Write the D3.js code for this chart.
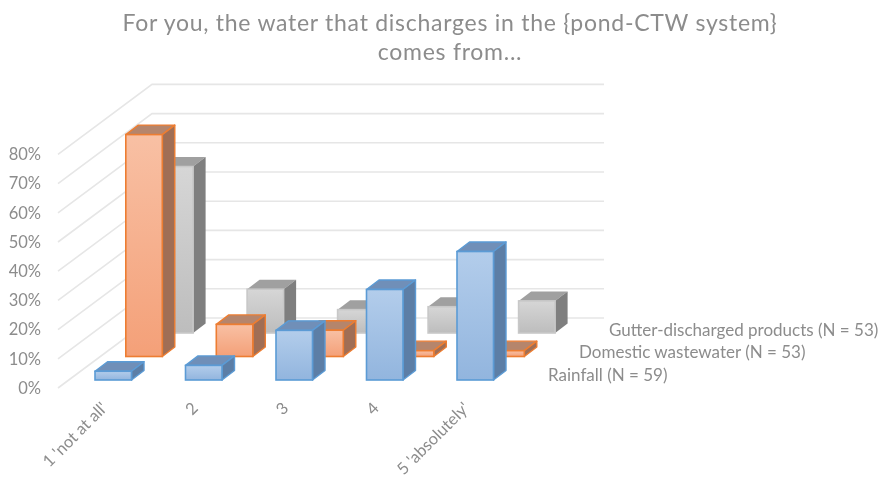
<!doctype html>
<html lang="en">
<head>
<meta charset="utf-8">
<title>Pond-CTW water origin</title>
<script src="https://d3js.org/d3.v7.min.js"></script>
<style>
  html, body { margin:0; padding:0; background:#fff; }
  text { font-family:"Lato", "Open Sans", sans-serif; fill:#8c8c8c; }
  .axis path, .axis line { display:none; }
  .grid { stroke:#e6e6e6; stroke-width:1.6; fill:none; }
</style>
</head>
<body>
<script>
  var categories = ["1 'not at all'", "2", "3", "4", "5 'absolutely'"];
  var seriesNames = ["Rainfall (N = 59)", "Domestic wastewater (N = 53)", "Gutter-discharged products (N = 53)"];
  var rainfall = [3, 5, 17, 31, 44];
  var domestic = [76, 11, 9, 2, 2];
  var gutter = [57, 15, 8, 9, 11];
  var yTicks = [0, 10, 20, 30, 40, 50, 60, 70, 80];
  var titleLines = ["For you, the water that discharges in the {pond-CTW system}", "comes from..."];

  var width = 883, height = 480;
  var barW = 36.5, baseY = 380;
  var capX = 12.5, capY = 9.5;

  var svg = d3.select("body").append("svg")
    .attr("width", width).attr("height", height)
    .style("display", "block");

  var defs = svg.append("defs");
  defs.append("filter").attr("id", "soft")
    .append("feGaussianBlur").attr("stdDeviation", 0.5);

  var looks = [
    {id:"g0", light:"#b3cdeb", dark:"#92b5de", line:"#5b9bd5", edge:"#5b9bd5", top:"#6f8fb8", side:"#5c7ea6"},
    {id:"g1", light:"#f8c0a4", dark:"#f4a078", line:"#ed7d31", edge:"#ed7d31", top:"#b5856c", side:"#a06e54"},
    {id:"g2", light:"#d6d6d6", dark:"#bdbdbd", line:"#c8c8c8", edge:"none", top:"#a0a0a0", side:"#7f7f7f"}
  ];
  looks.forEach(function(s){
    var g = defs.append("linearGradient").attr("id", s.id)
      .attr("x1", 0).attr("y1", 0).attr("x2", 0).attr("y2", 1);
    g.append("stop").attr("offset", "0%").attr("stop-color", s.light);
    g.append("stop").attr("offset", "100%").attr("stop-color", s.dark);
  });

  // category along the front edge, series goes back into the picture
  var xScale = d3.scaleBand().domain(categories).range([95, 547.5]);
  var depth = d3.scalePoint().domain(seriesNames).range([0, 2]);
  var hScale = d3.scaleLinear().domain([0, 80]).range([0, 233.6]);
  var yScale = d3.scaleLinear().domain([0, 80]).range([388, 154.4]);
  var dx = function(name){ return depth(name) * 30.8; };
  var dy = function(name){ return depth(name) * -23.5; };

  var root = svg.append("g").attr("filter", "url(#soft)");

  // walls
  var wallX = 94, wallY = -70, wallEnd = 604;
  var grid = root.append("g");
  yTicks.forEach(function(t){
    var y = yScale(t);
    grid.append("path").attr("class", "grid")
      .attr("d", d3.line()([[58, y], [58 + wallX, y + wallY], [wallEnd, y + wallY]]));
  });

  // bars, back row first
  var rows = [
    {name:seriesNames[2], values:gutter, look:looks[2]},
    {name:seriesNames[1], values:domestic, look:looks[1]},
    {name:seriesNames[0], values:rainfall, look:looks[0]}
  ];
  rows.forEach(function(row){
    var g = root.append("g").selectAll("g").data(row.values).enter().append("g")
      .attr("transform", function(d, i){
        return "translate(" + (xScale(categories[i]) + dx(row.name)) + "," + (baseY + dy(row.name)) + ")";
      });
    g.append("path")
      .attr("d", function(d){
        var h = hScale(d);
        return "M0," + (-h) + "l" + capX + "," + (-capY) + "h" + barW + "l" + (-capX) + "," + capY + "Z";
      })
      .attr("fill", row.look.top).attr("stroke", row.look.edge).attr("stroke-width", 1.4).attr("stroke-linejoin", "round");
    g.append("path")
      .attr("d", function(d){
        var h = hScale(d);
        return "M" + barW + "," + (-h) + "l" + capX + "," + (-capY) + "v" + h + "l" + (-capX) + "," + capY + "Z";
      })
      .attr("fill", row.look.side).attr("stroke", row.look.edge).attr("stroke-width", 1.4).attr("stroke-linejoin", "round");
    g.append("rect")
      .attr("x", 0).attr("y", function(d){ return -hScale(d); })
      .attr("width", barW).attr("height", function(d){ return hScale(d); })
      .attr("fill", "url(#" + row.look.id + ")").attr("stroke", row.look.line).attr("stroke-width", 1.6);
  });

  // y axis labels
  var yAxis = d3.axisLeft(yScale).tickValues(yTicks).tickSize(0).tickPadding(0)
    .tickFormat(function(d){ return d + "%"; });
  root.append("g").attr("class", "axis").attr("transform", "translate(41,0)").call(yAxis)
    .call(function(g){ g.selectAll("text").style("font-size", "16.5px").style("font-family", "Lato").style("fill", "#8c8c8c"); });

  // category labels
  var xAxis = d3.axisBottom(xScale).tickSize(0).tickPadding(0);
  root.append("g").attr("class", "axis").attr("transform", "translate(-40,401)").call(xAxis)
    .call(function(g){
      g.selectAll("text")
        .style("font-size", "16.5px").style("font-family", "Lato").style("fill", "#8c8c8c")
        .attr("text-anchor", "end").attr("dy", "0.7em").attr("y", 0)
        .attr("transform", "rotate(-45)");
    });

  // depth axis labels, one per row
  var labelPos = [[548, 381], [579, 358], [609, 336]];
  root.append("g").selectAll("text").data(seriesNames).enter().append("text")
    .attr("x", function(d, i){ return labelPos[i][0]; })
    .attr("y", function(d, i){ return labelPos[i][1]; })
    .style("font-size", "17px")
    .text(function(d){ return d; });

  root.append("g").selectAll("text").data(titleLines).enter().append("text")
    .attr("x", 450)
    .attr("y", function(d, i){ return 31 + i * 29; })
    .attr("text-anchor", "middle")
    .style("font-size", "23px").style("letter-spacing", "0.73px")
    .text(function(d){ return d; });
</script>
</body>
</html>
